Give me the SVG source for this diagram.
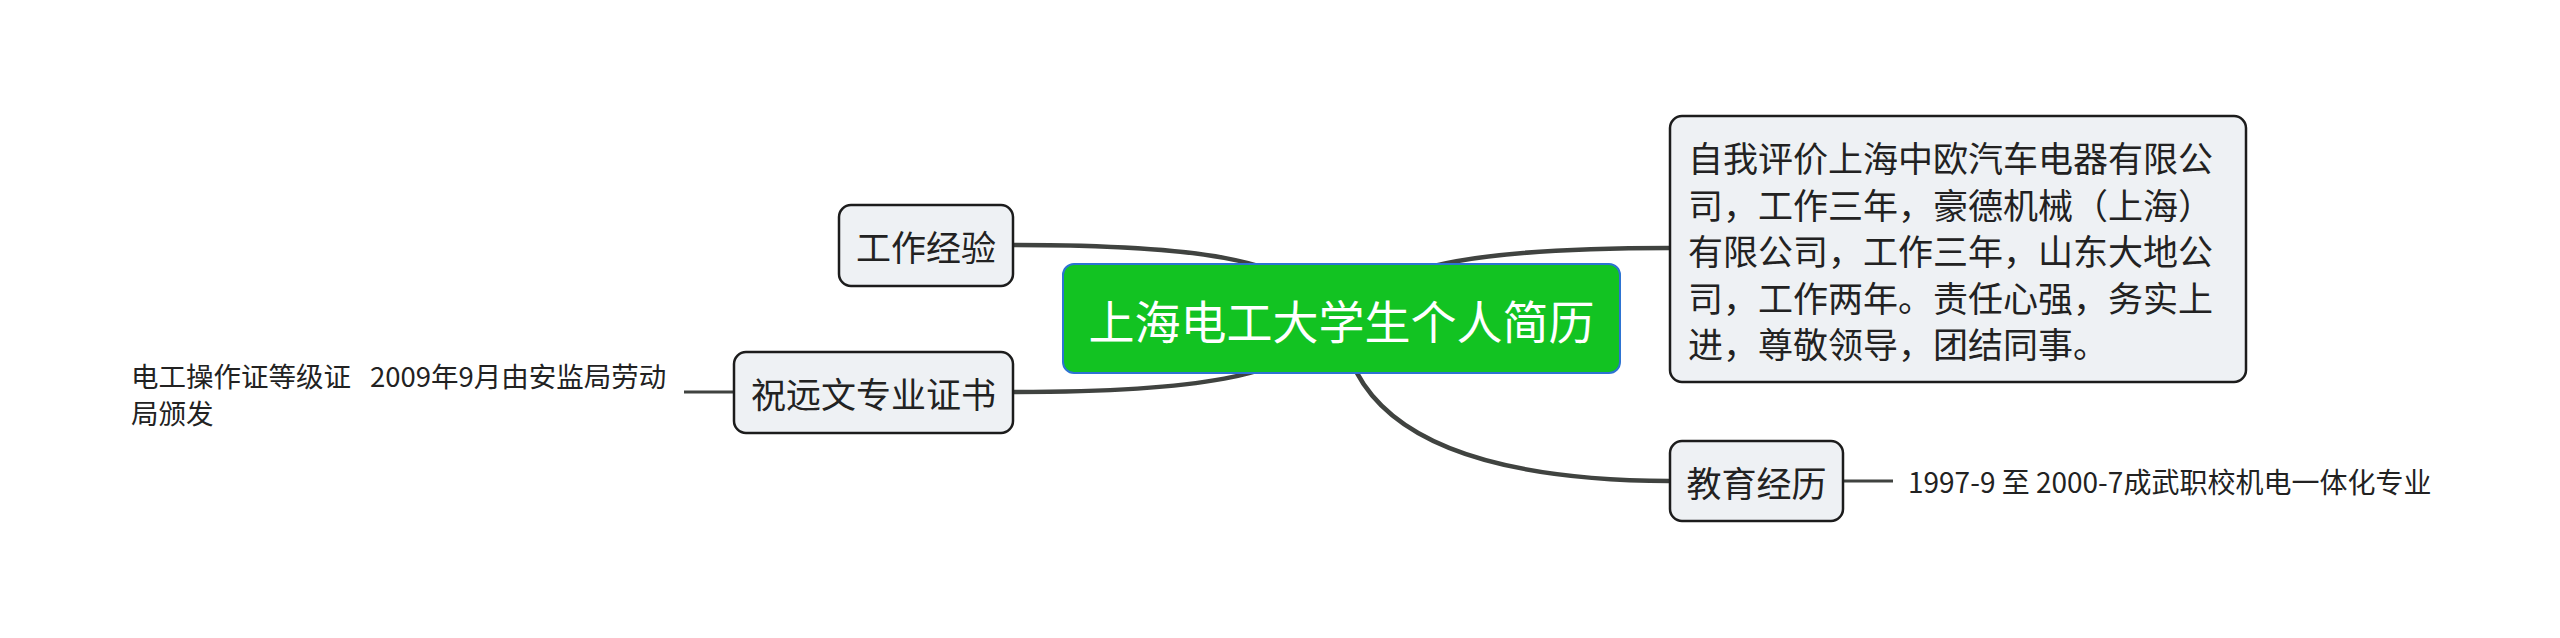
<svg xmlns="http://www.w3.org/2000/svg" width="2560" height="638" viewBox="0 0 2560 638">
<style>
.t{font-family:"Noto Sans CJK SC","Noto Sans",sans-serif;fill:#222;dominant-baseline:central}
.sub{fill:#eef1f4;stroke:#1c1c1c;stroke-width:2.5}
.main{fill:none;stroke:#404340;stroke-width:4.5;stroke-linecap:round}
.leaf{fill:none;stroke:#404340;stroke-width:3}
</style>
<rect width="2560" height="638" fill="#fff"/>
<g id="connectors">
<path class="main" d="M1013,245 C1180,245 1300,255 1341,318"/>
<path class="main" d="M1013,392 C1180,392 1300,381 1341,318"/>
<path class="main" d="M1341,318 C1380,260 1500,248 1670,248"/>
<path class="main" d="M1341,318 C1350,420 1450,480 1670,481"/>
<path class="leaf" d="M684,392 H734"/>
<path class="leaf" d="M1843,481 H1893"/>
</g>
<g id="root">
<rect x="1063" y="264" width="557" height="109" rx="11" fill="#12c322" stroke="#2d73d2" stroke-width="2"/>
<text class="t" x="1341.5" y="318.5" text-anchor="middle" font-size="46" style="fill:#fff">上海电工大学生个人简历</text>
</g>
<g id="work">
<rect class="sub" x="839" y="205" width="174" height="81" rx="12"/>
<text class="t" x="926" y="245.5" text-anchor="middle" font-size="35">工作经验</text>
</g>
<g id="cert">
<rect class="sub" x="734" y="352" width="279" height="81" rx="12"/>
<text class="t" x="873.5" y="392.5" text-anchor="middle" font-size="35">祝远文专业证书</text>
</g>
<g id="cert-leaf">
<text class="t" font-size="27.5"><tspan x="131" y="375">电工操作证等级证</tspan><tspan x="370" y="375">2009年9月由安监局劳动</tspan><tspan x="131" y="412">局颁发</tspan></text>
</g>
<g id="self">
<rect class="sub" x="1670" y="116" width="576" height="266" rx="12"/>
<text class="t" font-size="35"><tspan x="1688" y="156">自我评价上海中欧汽车电器有限公</tspan><tspan x="1688" y="202.5">司，工作三年，豪德机械（上海）</tspan><tspan x="1688" y="249">有限公司，工作三年，山东大地公</tspan><tspan x="1688" y="295.5">司，工作两年。责任心强，务实上</tspan><tspan x="1688" y="342">进，尊敬领导，团结同事。</tspan></text>
</g>
<g id="edu">
<rect class="sub" x="1670" y="441" width="173" height="80" rx="12"/>
<text class="t" x="1756.5" y="481" text-anchor="middle" font-size="35">教育经历</text>
</g>
<g id="edu-leaf">
<text class="t" x="1908" y="481" font-size="28">1997-9 至 2000-7成武职校机电一体化专业</text>
</g>
</svg>
